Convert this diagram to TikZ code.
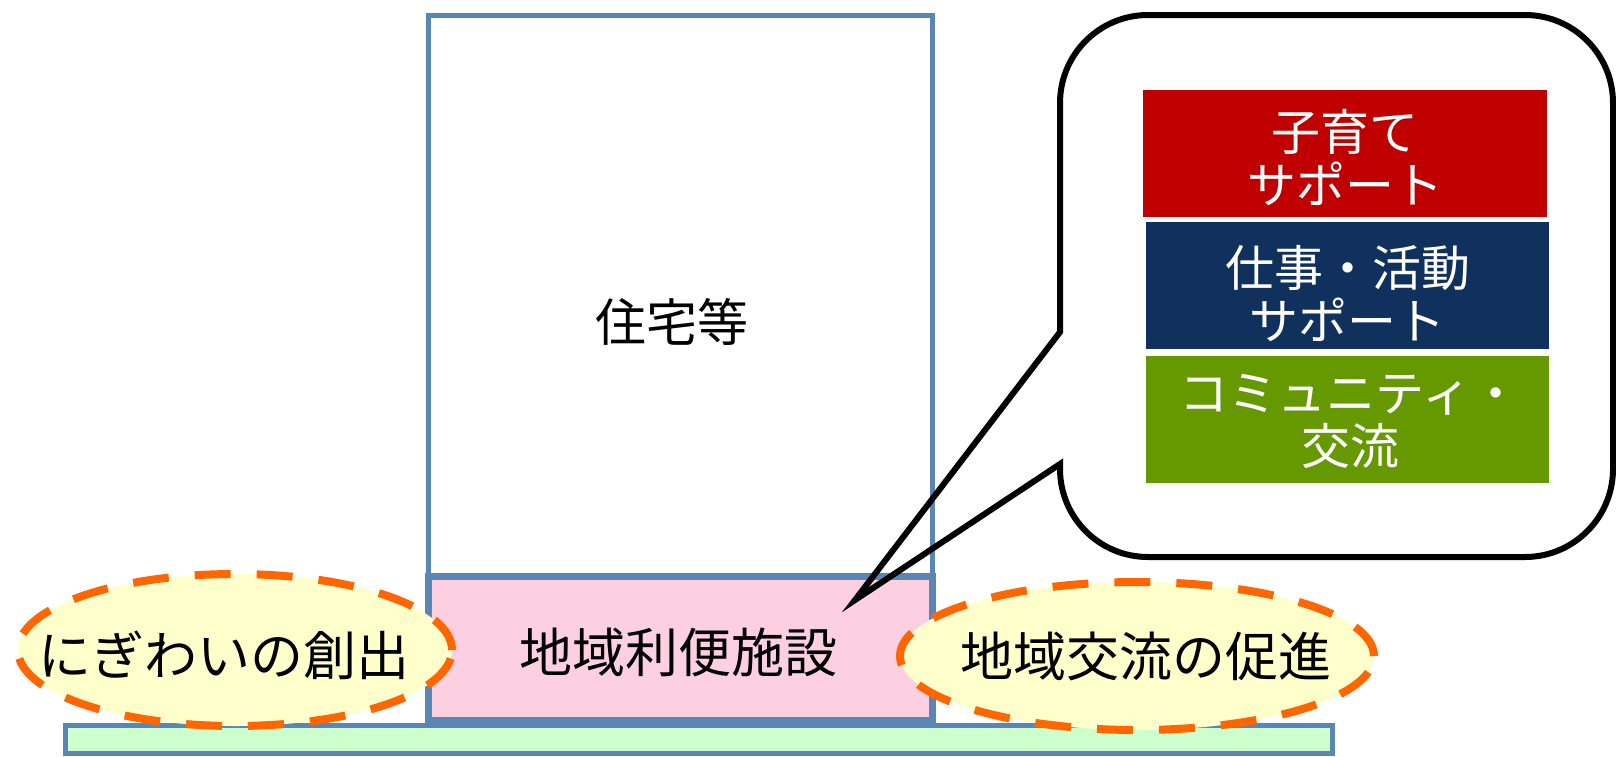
\documentclass[tikz,border=0pt]{standalone}
\usepackage{fontspec}
\setmainfont{Noto Sans CJK JP}
\usetikzlibrary{shapes.geometric}
\definecolor{bordblue}{RGB}{91,134,179}
\definecolor{pinkfill}{RGB}{252,208,225}
\definecolor{basegreen}{RGB}{204,255,204}
\definecolor{ellyellow}{RGB}{255,255,204}
\definecolor{dashorange}{RGB}{255,102,0}
\definecolor{boxred}{RGB}{192,0,0}
\definecolor{boxnavy}{RGB}{16,49,94}
\definecolor{boxgreen}{RGB}{102,153,0}
\tikzset{
  bigtext/.style={font=\fontsize{53}{60}\selectfont},
  midtext/.style={font=\fontsize{51}{58}\selectfont},
  boxtext/.style={font=\fontsize{49}{53}\selectfont, text=white, align=center},
  area/.style={draw=bordblue, inner sep=0pt, outer sep=0pt},
  bubble/.style={ellipse, fill=ellyellow, draw=dashorange, line width=8pt,
    dash pattern=on 36pt off 26pt, inner sep=0pt},
  callout/.style={draw=black, line width=6pt, line join=miter},
  infobox/.style={inner sep=0pt, outer sep=0pt}
}
\begin{document}
\begin{tikzpicture}[x=1pt,y=-1pt]
\useasboundingbox (0,0) rectangle (1616,756);
% base
\node[area, fill=basegreen, line width=5pt, minimum width=1267pt, minimum height=28pt] (base) at (699,739.5) {};
% building
\node[area, fill=white, line width=4.5pt, minimum width=504pt, minimum height=560pt] (house) at (680.5,295.5) {};
\node[midtext] (houselabel) at (672,322) {住宅等};
% facility box
\node[area, fill=pinkfill, line width=7pt, minimum width=504pt, minimum height=144pt] (facility) at (680.5,648) {};
\node[bigtext] (faclabel) at (678,652) {地域利便施設};
% ellipses
\node[bubble, minimum width=434pt, minimum height=152pt] (left) at (235,650) {};
\node[bigtext] (leftlabel) at (224,655) {にぎわいの創出};
\node[bubble, minimum width=474pt, minimum height=148pt] (right) at (1137,656) {};
\node[bigtext] (rightlabel) at (1146,656) {地域交流の促進};
% callout
\coordinate (tip) at (855,600);
\draw[callout] (1060,332) -- (1060,103)
  .. controls (1060,54.4) and (1099.4,15) .. (1148,15)
  -- (1525,15)
  .. controls (1573.6,15) and (1613,54.4) .. (1613,103)
  -- (1613,469)
  .. controls (1613,517.6) and (1573.6,557) .. (1525,557)
  -- (1148,557)
  .. controls (1099.4,557) and (1060,517.6) .. (1060,469)
  -- (1060,464) -- (tip) -- cycle;
% info boxes
\node[infobox, fill=boxred, minimum width=404pt, minimum height=127pt] (red) at (1345,153.5) {};
\node[boxtext] (redlabel) at (1345,158) {子育て\\サポート};
\node[infobox, fill=boxnavy, minimum width=403pt, minimum height=127pt] (navy) at (1347.5,285.5) {};
\node[boxtext] (navylabel) at (1347.5,294) {仕事・活動\\サポート};
\node[infobox, fill=boxgreen, minimum width=403pt, minimum height=127pt] (green) at (1347.5,419) {};
\node[boxtext] (greenlabel) at (1350,422) {コミュニティ・\\交流};
\end{tikzpicture}
\end{document}
